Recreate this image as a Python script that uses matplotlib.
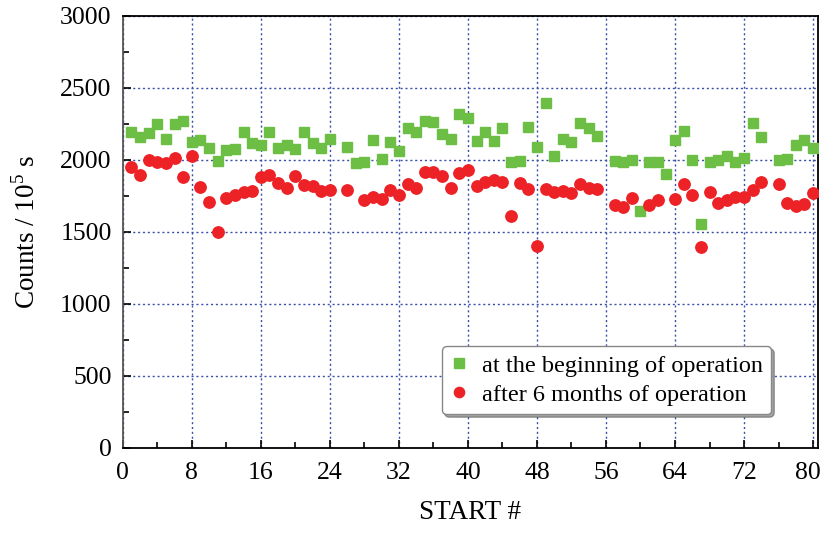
import numpy as np
import matplotlib
matplotlib.use("Agg")
import matplotlib.pyplot as plt
import matplotlib.transforms as mtransforms
from matplotlib.ticker import MultipleLocator

nan = np.nan
start = list(range(1, 81))

begin = [2195, 2160, 2185, 2245, 2145, 2250, 2270, 2120, 2135, 2080,
         1990, 2065, 2075, 2190, 2115, 2100, 2195, 2080, 2100, 2077,
         2190, 2117, 2082, 2140, nan, 2087, 1977, 1982, 2133, 2001,
         2121, 2059, 2222, 2191, 2270, 2262, 2180, 2145, 2315, 2287,
         2128, 2191, 2128, 2222, 1982, 1989, 2229, 2089, 2396, 2024,
         2140, 2121, 2252, 2222, 2163, nan, 1989, 1985, 1996, 1645,
         1980, 1982, 1903, 2133, 2198, 1996, 1554, 1980, 1996, 2024,
         1982, 2008, 2257, 2159, nan, 1996, 2001, 2098, 2133, 2082]

after = [1947, 1896, 1996, 1985, 1977, 2008, 1882, 2024, 1810, 1703,
         1500, 1733, 1757, 1773, 1784, 1880, 1896, 1838, 1803, 1884,
         1826, 1819, 1784, 1791, nan, 1787, nan, 1722, 1741, 1729,
         1791, 1757, 1833, 1803, 1912, 1915, 1884, 1803, 1908, 1931,
         1819, 1845, 1861, 1842, 1612, 1838, 1799, 1403, 1799, 1773,
         1780, 1768, 1831, 1803, 1796, nan, 1687, 1668, 1731, nan,
         1682, 1717, nan, 1726, 1833, 1757, 1396, 1775, 1699, 1722,
         1738, 1741, 1791, 1842, nan, 1831, 1699, 1680, 1694, 1768]

label_begin = "at the beginning of operation"
label_after = "after 6 months of operation"

plt.rcParams['font.family'] = ['Liberation Serif', 'DejaVu Serif']
plt.rcParams['mathtext.fontset'] = 'custom'
plt.rcParams['mathtext.rm'] = 'Liberation Serif'

fig = plt.figure(figsize=(8.24, 5.35), dpi=100)
ax = fig.add_axes([0.149, 0.163, 0.844, 0.808])

ax.plot(start, begin, linestyle='none', marker='s', markersize=7.5,
        color='#6cbf44', markeredgecolor='#6cbf44', label=label_begin, zorder=3)
ax.plot(start, after, linestyle='none', marker='o', markersize=8.2,
        color='#ec2227', markeredgecolor='#ec2227', label=label_after, zorder=4)

ax.set_xlim(0, 80.6)
ax.set_ylim(0, 3000)
ax.xaxis.set_major_locator(MultipleLocator(8))
ax.xaxis.set_minor_locator(MultipleLocator(4))
ax.yaxis.set_major_locator(MultipleLocator(500))
ax.yaxis.set_minor_locator(MultipleLocator(250))
ax.tick_params(which='both', direction='in', top=False, right=False,
               labelsize=18.5, width=1.2)
ax.tick_params(which='major', length=6)
ax.tick_params(which='minor', length=4)
ax.tick_params(axis='x', pad=10)
ax.tick_params(axis='y', pad=8)

ax.grid(True, which='major', linestyle=(0, (1.5, 2)), color='#3a50a8',
        linewidth=1.0, zorder=1)
ax.set_axisbelow(True)

for s in ['left', 'bottom', 'right', 'top']:
    ax.spines[s].set_linewidth(1.3)
ax.spines['left'].set_color('#555555')

ax.set_xlabel('START #', fontsize=19.5, labelpad=12)
ax.set_ylabel('Counts / 10$^5$ s', fontsize=19.5, labelpad=14)

leg = ax.legend(loc='upper left', bbox_to_anchor=(0.4588, 0.2353),
                borderaxespad=0, fontsize=17.5,
                frameon=True, fancybox=True, shadow=True, handlelength=0.7,
                handletextpad=0.6, borderpad=0.35, labelspacing=0.3,
                markerscale=0.9, edgecolor='#888888', framealpha=1)

# nudge the last x tick label slightly left so it stays inside the figure
fig.canvas.draw()
offset = mtransforms.ScaledTranslation(-4 / 72, 0, fig.dpi_scale_trans)
for lbl in ax.get_xticklabels():
    if lbl.get_text() == '80':
        lbl.set_transform(lbl.get_transform() + offset)

fig.savefig('out.png', dpi=100)
